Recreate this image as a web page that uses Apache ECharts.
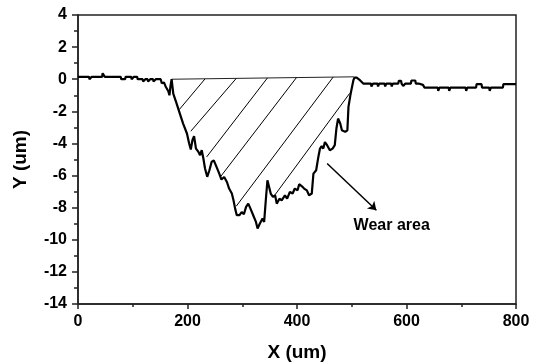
<!DOCTYPE html>
<html><head><meta charset="utf-8">
<script src="https://cdn.jsdelivr.net/npm/echarts@6/dist/echarts.min.js"></script>
<style>html,body{margin:0;padding:0;background:#fff}#c{width:535px;height:362px}</style>
</head><body><div id="c"></div>
<script>
// Surface profile (X in um, Y in um)
const profileX = [0,20,21,24,25,44,45,48,49,78,79,86,87,97,98,101,102,108,109,118,119,122,123,127,128,131,132,137,138,141,142,151,153,157,160,163,165,167,169,171,174,180,186,192,199,203,206,209,212,215.5,220,223,226,229,232,236,240,244,248,253,258,262,267,272,276,281,284,287,290,295,299,303,307,311,315,320,325,328,332,337,340,343,346,349,352,356,360,363,368,372,378,382,387,392,396,401,404,409,413,418,422,427,430,435,439,442,445,448,451,455,460,465,469,472,475,479,482,488,492,494,498,503,505,509,511,515,518,521,535,536,538,539,547,548,550,560,561,563,572,573,575,585,586,590,591,593,594,597,598,608,609,616,617,622,623,630,633,657,658,660,677,678,680,708,709,711,727,728,737,738,751,752,754,776,777,800];
const profileY = [0.15,0.15,0.0,0.0,0.15,0.15,0.37,0.37,0.15,0.15,0.0,0.0,0.15,0.15,0.0,0.0,0.15,0.15,0.0,0.0,-0.15,-0.15,0.0,0.0,-0.15,-0.15,0,0,-0.15,-0.15,0,0,-0.25,-0.2,-0.45,-0.35,-0.75,-1.0,-0.4,0.0,-0.9,-1.5,-2.14,-2.76,-3.38,-4.0,-4.38,-3.8,-3.55,-4.32,-4.53,-4.73,-4.42,-4.94,-5.56,-6.08,-5.67,-5.15,-5.05,-5.46,-5.88,-6.25,-6.09,-6.4,-6.81,-7.12,-7.54,-8.06,-8.47,-8.47,-8.27,-8.41,-7.95,-7.75,-8.06,-8.47,-8.89,-9.3,-9.0,-8.68,-8.89,-7.54,-6.3,-6.4,-7.12,-7.33,-7.23,-7.75,-7.44,-7.54,-7.23,-7.44,-7.02,-7.12,-6.81,-6.92,-6.54,-6.67,-6.81,-6.92,-7.23,-7.12,-5.88,-5.67,-4.84,-4.32,-4.17,-4.32,-3.91,-4.11,-4.42,-4.32,-4.11,-3.07,-2.45,-2.76,-3.18,-3.28,-3.18,-1.72,-0.9,-0.06,0.1,0.1,0.0,-0.06,-0.1,-0.27,-0.27,-0.45,-0.45,-0.27,-0.27,-0.45,-0.27,-0.27,-0.45,-0.27,-0.27,-0.45,-0.27,-0.27,-0.1,-0.1,-0.27,-0.27,-0.42,-0.42,-0.27,-0.27,-0.08,-0.08,-0.27,-0.27,-0.35,-0.35,-0.52,-0.52,-0.72,-0.52,-0.52,-0.72,-0.52,-0.52,-0.72,-0.52,-0.52,-0.31,-0.31,-0.52,-0.52,-0.72,-0.52,-0.52,-0.31,-0.31];

// Top chord of the wear area
const chordX = [171, 504];
const chordY = [0.0, 0.15];

// Hatch lines (start on profile, end toward chord)
const hatchX1 = [185, 206, 235, 261, 289, 357];
const hatchY1 = [-1.89, -3.24, -4.84, -6.04, -7.91, -7.33];
const hatchX2 = [232, 289, 346, 399, 466, 496];
const hatchY2 = [0.02, 0.05, 0.08, 0.1, 0.13, -0.89];

// Annotation arrow and label
const arrowFrom = [455, -5.25];
const arrowTo = [545, -8.16];
const labelText = 'Wear area';
const labelPos = [573, -9.1];

const xTicks = {min: 0, max: 800, interval: 200};
const yTicks = {min: -14, max: 4, interval: 2};
const xName = 'X (um)';
const yName = 'Y (um)';

const FONT = '"Liberation Sans", Arial, sans-serif';

const profileData = profileX.map((x, i) => [x, profileY[i]]);
const chordData = chordX.map((x, i) => [x, chordY[i]]);
const hatchData = [];
hatchX1.forEach((x, i) => {
  hatchData.push([x, hatchY1[i]]);
  hatchData.push([hatchX2[i], hatchY2[i]]);
  hatchData.push(['-', '-']);
});

const chart = echarts.init(document.getElementById('c'), null, {renderer: 'canvas'});
const axisCommon = {
  axisLine: {show: true, onZero: false, lineStyle: {color: '#222', width: 1.5}},
  splitLine: {show: false},
  minorSplitLine: {show: false},
  axisLabel: {color: '#000', fontFamily: FONT, fontWeight: 'bold', fontSize: 16},
  nameTextStyle: {color: '#000', fontFamily: FONT, fontWeight: 'bold', fontSize: 19},
  nameLocation: 'middle'
};
chart.setOption({
  animation: false,
  backgroundColor: '#fff',
  grid: {left: 78, top: 15, right: 19, bottom: 58, containLabel: false, outerBoundsMode: 'none',
         show: true, borderColor: '#222', borderWidth: 1.5, backgroundColor: 'transparent'},
  xAxis: Object.assign({}, axisCommon, {
    type: 'value', min: xTicks.min, max: xTicks.max, interval: xTicks.interval,
    name: xName, nameGap: 39,
    axisTick: {show: true, inside: false, length: 5, lineStyle: {color: '#222', width: 1.5}},
    minorTick: {show: true, splitNumber: 2, length: 3, lineStyle: {color: '#222', width: 1.5}},
    axisLabel: Object.assign({}, axisCommon.axisLabel, {margin: 10})
  }),
  yAxis: Object.assign({}, axisCommon, {
    type: 'value', min: yTicks.min, max: yTicks.max, interval: yTicks.interval,
    name: yName, nameGap: 48, nameRotate: 90,
    axisTick: {show: true, inside: false, length: 6, lineStyle: {color: '#222', width: 1.5}},
    minorTick: {show: true, splitNumber: 2, length: 4, lineStyle: {color: '#222', width: 1.5}},
    axisLabel: Object.assign({}, axisCommon.axisLabel, {margin: 11})
  }),
  series: [
    {type: 'line', data: chordData, symbol: 'none', lineStyle: {color: '#222', width: 1}, silent: true},
    {type: 'line', data: hatchData, symbol: 'none', connectNulls: false, lineStyle: {color: '#000', width: 1}, silent: true},
    {type: 'line', data: profileData, symbol: 'none', lineStyle: {color: '#000', width: 2.2}, z: 5},
    {type: 'lines', coordinateSystem: 'cartesian2d', symbol: ['none', 'arrow'], symbolSize: 8,
     lineStyle: {color: '#000', width: 1.5, opacity: 1},
     data: [{coords: [arrowFrom, arrowTo]}]},
    {type: 'scatter', data: [labelPos], symbolSize: 1, itemStyle: {opacity: 1, color: 'rgba(0,0,0,0)'},
     label: {show: true, position: 'inside', formatter: labelText, color: '#000', opacity: 1, fontFamily: FONT, fontWeight: 'bold', fontSize: 16}}
  ]
});
</script>
</body></html>
